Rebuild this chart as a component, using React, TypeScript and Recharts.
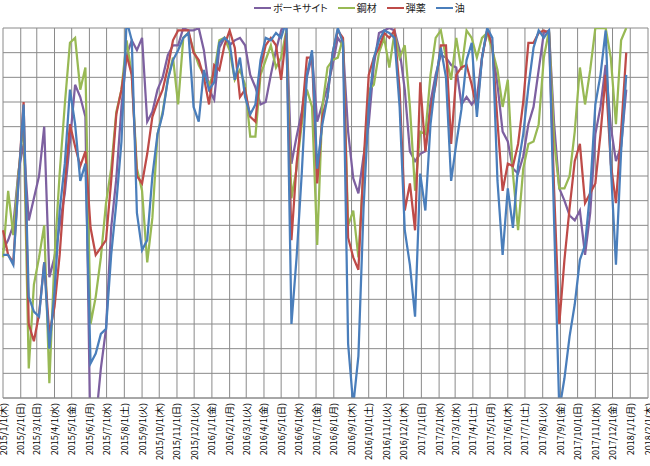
import { LineChart, Line, XAxis, YAxis, CartesianGrid } from 'recharts'

// one sample every 9 days starting 2015/1/1
const START = Date.UTC(2015, 0, 1)
const STEP_DAYS = 9

const monthLabels = [
  '2015/1/1(木)', '2015/2/1(日)', '2015/3/1(日)', '2015/4/1(水)', '2015/5/1(金)', '2015/6/1(月)',
  '2015/7/1(水)', '2015/8/1(土)', '2015/9/1(火)', '2015/10/1(木)', '2015/11/1(日)', '2015/12/1(火)',
  '2016/1/1(金)', '2016/2/1(月)', '2016/3/1(火)', '2016/4/1(金)', '2016/5/1(日)', '2016/6/1(水)',
  '2016/7/1(金)', '2016/8/1(月)', '2016/9/1(木)', '2016/10/1(土)', '2016/11/1(火)', '2016/12/1(木)',
  '2017/1/1(日)', '2017/2/1(水)', '2017/3/1(水)', '2017/4/1(土)', '2017/5/1(月)', '2017/6/1(木)',
  '2017/7/1(土)', '2017/8/1(火)', '2017/9/1(金)', '2017/10/1(日)', '2017/11/1(水)', '2017/12/1(金)',
  '2018/1/1(月)', '2018/2/1(木)',
]

const bauxite = [
  60, 64, 70, 92, 103, 72, 81, 90, 110, 49,
  57, 70, 83, 104, 127, 122, 114, -20, -10, 12,
  28, 69, 89, 118, 139, 145, 141, 146, 112, 116,
  125, 130, 139, 143, 143, 150, 149, 149, 150, 141,
  125, 121, 142, 146, 143, 145, 146, 143, 131, 126,
  119, 120, 131, 141, 149, 152, 95, 106, 116, 130,
  139, 112, 119, 126, 135, 146, 143, 108, 89, 83,
  98, 111, 135, 148, 149, 150, 149, 141, 125, 100,
  96, 99, 100, 120, 131, 139, 138, 135, 134, 119,
  122, 119, 122, 138, 149, 142, 127, 108, 104, 93,
  91, 98, 111, 118, 133, 148, 149, 111, 85, 80,
  74, 72, 76, 58, 75, 107, 118, 135, 110, 96,
  102, 125,
]

const steel = [
  57, 84, 66, 91, 112, 12, 46, 57, 70, 6,
  57, 91, 119, 144, 146, 125, 134, 30, 41, 57,
  79, 93, 116, 125, 145, 131, 93, 84, 55, 73,
  107, 116, 129, 138, 119, 146, 148, 141, 135, 131,
  127, 132, 145, 146, 141, 129, 133, 127, 106, 106,
  131, 137, 143, 134, 138, 149, 81, 93, 111, 125,
  118, 62, 118, 134, 137, 138, 146, 70, 76, 57,
  93, 125, 127, 140, 146, 134, 148, 138, 143, 118,
  84, 108, 107, 131, 146, 149, 138, 129, 146, 133,
  149, 146, 138, 146, 148, 141, 133, 118, 129, 91,
  68, 93, 103, 104, 111, 138, 149, 104, 85, 85,
  90, 108, 134, 119, 133, 150, 150, 150, 138, 111,
  145, 150,
]

const ammo = [
  68, 58, 55, 88, 120, 30, 23, 34, 55, 26,
  37, 58, 87, 111, 102, 94, 100, 69, 58, 61,
  64, 88, 115, 125, 139, 131, 90, 87, 99, 114,
  120, 125, 134, 145, 149, 149, 149, 140, 137, 130,
  119, 135, 133, 143, 149, 142, 122, 125, 114, 112,
  134, 143, 146, 143, 129, 148, 64, 95, 114, 138,
  138, 87, 114, 122, 140, 149, 146, 65, 57, 52,
  95, 131, 138, 142, 148, 146, 149, 125, 76, 87,
  68, 128, 100, 117, 127, 143, 143, 103, 131, 134,
  135, 127, 117, 138, 149, 143, 112, 84, 95, 94,
  103, 120, 144, 144, 148, 149, 148, 84, 30, 56,
  77, 96, 103, 79, 83, 87, 107, 131, 95, 79,
  108, 140,
]

const fuel = [
  58, 58, 54, 87, 119, 41, 35, 33, 55, 20,
  43, 76, 95, 125, 111, 88, 95, 14, 18, 26,
  28, 58, 79, 104, 153, 145, 75, 60, 64, 90,
  107, 115, 129, 137, 141, 146, 148, 118, 112, 133,
  125, 128, 144, 146, 144, 129, 138, 122, 115, 119,
  137, 146, 145, 148, 146, 153, 30, 57, 91, 131,
  141, 93, 111, 122, 140, 150, 144, 22, -3, 17,
  77, 118, 138, 145, 149, 148, 146, 118, 68, 54,
  33, 91, 76, 111, 129, 142, 130, 88, 103, 117,
  137, 144, 114, 138, 150, 146, 88, 58, 85, 69,
  94, 107, 126, 142, 149, 146, 149, 71, -5, 8,
  25, 38, 56, 62, 84, 119, 131, 149, 94, 54,
  100, 131,
]

const series = [
  { key: 'bauxite', name: 'ボーキサイト', color: '#7D60A0' },
  { key: 'steel', name: '鋼材', color: '#98B954' },
  { key: 'ammo', name: '弾薬', color: '#BE4B48' },
  { key: 'fuel', name: '油', color: '#4A7EBB' },
]

const yTicks = [0, 10, 20, 30, 40, 50, 60, 70, 80, 90, 100, 110, 120, 130, 140, 150]

const toDay = (label: string) => {
  const [y, m, d] = label.replace(/\(.*\)/, '').split('/').map(Number)
  return (Date.UTC(y, m - 1, d) - START) / 86400000
}
const monthTicks = monthLabels.map(toDay)
const labelByDay = new Map(monthTicks.map((d, i) => [d, monthLabels[i]]))

const data = bauxite.map((_, i) => ({
  day: i * STEP_DAYS,
  bauxite: bauxite[i],
  steel: steel[i],
  ammo: ammo[i],
  fuel: fuel[i],
}))

const FONT = '"Noto Sans CJK JP", "Noto Sans", sans-serif'
const GRID = '#8a8a8a'

function DateTick({ x, y, payload }: any) {
  return (
    <text
      x={x}
      y={y}
      transform={`rotate(-90 ${x} ${y})`}
      textAnchor="end"
      dominantBaseline="central"
      fontSize={9}
      fontFamily={FONT}
      fill="#000"
    >
      {labelByDay.get(payload.value)}
    </text>
  )
}

// y axis has no visible labels, but its ticks still drive the grid
const NoTick = () => <g />

function TopLegend() {
  return (
    <div
      style={{
        position: 'absolute',
        top: 0,
        left: 254,
        height: 15,
        display: 'flex',
        alignItems: 'center',
        fontFamily: FONT,
        fontSize: 10,
        fontFeatureSettings: '"palt"',
        color: '#222',
        whiteSpace: 'nowrap',
      }}
    >
      {series.map((s) => (
        <div key={s.key} style={{ display: 'flex', alignItems: 'center', marginRight: 10 }}>
          <span style={{ width: 17, height: 2, background: s.color, marginRight: 2 }} />
          <span>{s.name}</span>
        </div>
      ))}
    </div>
  )
}

export default function App() {
  return (
    <div style={{ position: 'absolute', left: 0, top: 0, width: 650, height: 466, background: '#fff' }}>
      <LineChart width={650} height={466} data={data} margin={{ top: 28, right: 2, left: 3, bottom: 0 }}>
        <CartesianGrid stroke={GRID} strokeWidth={1} />
        <XAxis
          type="number"
          dataKey="day"
          domain={[0, monthTicks[monthTicks.length - 1]]}
          ticks={monthTicks}
          interval={0}
          height={68}
          tick={<DateTick />}
          tickLine={false}
          tickSize={0}
          tickMargin={5}
          axisLine={{ stroke: GRID }}
        />
        <YAxis
          type="number"
          domain={[0, 150]}
          ticks={yTicks}
          interval={0}
          allowDataOverflow
          width={0}
          tick={NoTick}
          tickLine={false}
          axisLine={false}
        />
        {series.map((s) => (
          <Line
            key={s.key}
            type="linear"
            dataKey={s.key}
            name={s.name}
            stroke={s.color}
            strokeWidth={2.25}
            dot={false}
            isAnimationActive={false}
          />
        ))}
      </LineChart>
      <TopLegend />
    </div>
  )
}
